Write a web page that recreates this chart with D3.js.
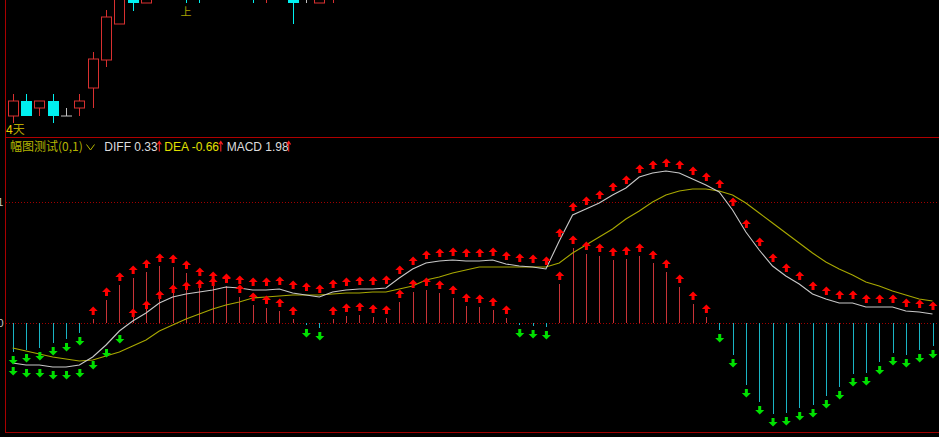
<!DOCTYPE html>
<html><head><meta charset="utf-8">
<script src="https://cdn.jsdelivr.net/npm/d3@7/dist/d3.min.js"></script>
<style>html,body{margin:0;padding:0;background:#000;overflow:hidden}</style>
</head><body><svg id="c" width="939" height="437"></svg>
<script>
// ---------- data ----------
const macd = [-0.29,-0.27,-0.25,-0.20,-0.16,-0.10,0.04,0.23,0.38,0.45,
  0.51,0.57,0.56,0.50,0.43,0.39,0.37,0.26,0.18,0.15,
  0.12,0.04,-0.02,-0.05,0.04,0.07,0.08,0.06,0.05,0.21,
  0.31,0.33,0.30,0.25,0.17,0.16,0.13,0.05,-0.02,-0.03,
  -0.04,0.39,0.75,0.69,0.67,0.63,0.64,0.67,0.60,0.51,
  0.36,0.19,0.06,-0.07,-0.32,-0.62,-0.79,-0.91,-0.90,-0.85,
  -0.82,-0.73,-0.64,-0.51,-0.50,-0.39,-0.30,-0.32,-0.27,-0.23];
const diff = [-0.40,-0.42,-0.42,-0.44,-0.44,-0.42,-0.34,-0.22,-0.08,0.02,
  0.10,0.20,0.26,0.29,0.31,0.33,0.36,0.35,0.33,0.33,
  0.34,0.30,0.28,0.26,0.31,0.33,0.34,0.34,0.35,0.45,
  0.54,0.60,0.62,0.63,0.62,0.62,0.63,0.59,0.57,0.56,
  0.54,0.82,1.08,1.14,1.20,1.28,1.35,1.46,1.50,1.52,
  1.50,1.44,1.38,1.31,1.13,0.91,0.73,0.57,0.47,0.39,
  0.29,0.24,0.20,0.20,0.16,0.16,0.16,0.12,0.11,0.09];
const dea = [-0.25,-0.28,-0.31,-0.34,-0.36,-0.38,-0.37,-0.33,-0.29,-0.23,
  -0.17,-0.08,-0.02,0.04,0.09,0.14,0.18,0.21,0.25,0.26,
  0.27,0.28,0.28,0.28,0.29,0.30,0.30,0.31,0.31,0.34,
  0.37,0.43,0.46,0.50,0.53,0.56,0.56,0.56,0.56,0.56,
  0.56,0.60,0.70,0.78,0.86,0.94,1.04,1.12,1.21,1.28,
  1.32,1.34,1.34,1.32,1.28,1.20,1.10,1.00,0.90,0.80,
  0.70,0.61,0.54,0.48,0.41,0.37,0.32,0.28,0.24,0.22];

const candleOpen  = [10.21,10.36,10.29,10.36,10.21,10.29,10.49,10.77,11.13,11.55,11.34,11.52,11.66,11.58,11.55,11.45,11.55,11.62,11.55,11.45,11.52,11.55,11.42,11.34,11.48];
const candleClose = [10.36,10.21,10.36,10.21,10.21,10.36,10.78,11.20,11.48,11.34,11.52,11.66,11.60,11.45,11.42,11.55,11.62,11.55,11.45,11.52,11.58,11.34,11.42,11.48,11.55];
const candleHigh  = [10.43,10.43,10.36,10.43,10.29,10.43,10.85,11.27,11.55,11.62,11.58,11.72,11.75,11.65,11.60,11.62,11.70,11.68,11.60,11.58,11.64,11.60,11.50,11.55,11.60];
const candleLow   = [10.14,10.21,10.21,10.14,10.21,10.21,10.29,10.70,11.13,11.26,11.34,11.45,11.42,11.34,11.34,11.40,11.48,11.45,11.34,11.34,11.45,11.13,11.34,11.34,11.34];

const yTickValues = [0, 1.21];
const yTickLabels = ["0", "1.21"];
const legendTitle = "幅图测试(0,1)";
const legendItems = [["DIFF", "0.33"], ["DEA", "-0.66"], ["MACD", "1.98"]];
const periodLabel = ["4", "天"];
const markText = "上";
const markIndex = 13;

// ---------- scales ----------
const svg = d3.select("#c");
const W = 939, H = 437;
const x = d3.scaleLinear().domain([0, 69]).range([12.7, 932.5]);
const y = d3.scaleLinear().domain([0, 1.21]).range([323, 202]);
const yp = d3.scaleLinear().domain([10, 11.37]).range([137, 0]);

svg.append("rect").attr("width", W).attr("height", H).attr("fill", "#000");

const FONT = "'Liberation Sans', Arial, 'Noto Sans CJK SC', sans-serif";
const CJK = "'Noto Sans CJK SC', sans-serif";

// ---------- candle panel ----------
svg.append("clipPath").attr("id", "top").append("rect").attr("x", 6).attr("y", 0).attr("width", W).attr("height", 137);
const cg = svg.append("g").attr("clip-path", "url(#top)");
const RED = "#d83030", CYAN = "#00f0f0", GREY = "#c0c0c0";
candleOpen.forEach((o, i) => {
  const c = candleClose[i], h = candleHigh[i], l = candleLow[i];
  const cx = Math.round(x(i)) + 0.5;
  const col = c > o ? RED : (c < o ? CYAN : GREY);
  const top = yp(Math.max(o, c)), bot = yp(Math.min(o, c));
  cg.append("line").attr("x1", cx).attr("x2", cx).attr("y1", yp(h)).attr("y2", top).attr("stroke", col);
  cg.append("line").attr("x1", cx).attr("x2", cx).attr("y1", bot).attr("y2", yp(l)).attr("stroke", col);
  if (c > o) {
    cg.append("rect").attr("x", cx - 5).attr("y", top).attr("width", 10).attr("height", Math.max(0, bot - top))
      .attr("fill", "none").attr("stroke", col);
  } else if (c < o) {
    cg.append("rect").attr("x", cx - 5.5).attr("y", top).attr("width", 11).attr("height", Math.max(0, bot - top))
      .attr("fill", col);
  } else {
    cg.append("line").attr("x1", cx - 5.5).attr("x2", cx + 5.5).attr("y1", top).attr("y2", top).attr("stroke", col);
  }
});
cg.append("text").attr("x", x(markIndex)).attr("y", 15.5).attr("text-anchor", "middle")
  .attr("font-family", CJK).attr("font-size", 11).attr("fill", "#a8a000").text(markText);

// period label
const pl = svg.append("text").attr("x", 6).attr("y", 134).attr("font-size", 12).attr("font-family", CJK);
pl.append("tspan").attr("fill", "#e8d000").attr("font-family", FONT).text(periodLabel[0]);
pl.append("tspan").attr("fill", "#b4a400").text(periodLabel[1]);

// ---------- frame ----------
svg.append("line").attr("x1", 5.5).attr("x2", 5.5).attr("y1", 0).attr("y2", 433).attr("stroke", "#a80000");
svg.append("line").attr("x1", 5).attr("x2", W).attr("y1", 137.5).attr("y2", 137.5).attr("stroke", "#b00000");
svg.append("line").attr("x1", 5).attr("x2", W).attr("y1", 432.5).attr("y2", 432.5).attr("stroke", "#a00000");

// grid dotted lines + tick labels
yTickValues.forEach((v, k) => {
  const yy = Math.round(y(v)) + 0.5;
  svg.append("line").attr("x1", 6).attr("x2", W).attr("y1", yy).attr("y2", yy)
    .attr("stroke", "#a00000").attr("stroke-dasharray", "1,2");
  svg.append("text").attr("x", 3.5).attr("y", yy).attr("dy", "0.35em").attr("text-anchor", "end")
    .attr("font-size", 11).attr("font-family", FONT).attr("fill", "#c8c8c8").text(yTickLabels[k]);
});

// ---------- MACD panel ----------
const mg = svg.append("g");
macd.forEach((v, i) => {
  const cx = Math.round(x(i)) + 0.5;
  mg.append("line").attr("x1", cx).attr("x2", cx).attr("y1", y(0)).attr("y2", y(v))
    .attr("stroke", v >= 0 ? "#c83438" : "#1ab4c4").attr("stroke-width", 1);
});

const line = d3.line().x((d, i) => x(i)).y(d => y(d));
mg.append("path").datum(dea).attr("d", line).attr("fill", "none").attr("stroke", "#a8a800").attr("stroke-width", 1.1);
mg.append("path").datum(diff).attr("d", line).attr("fill", "none").attr("stroke", "#c8c8c8").attr("stroke-width", 1.1);

function arrow(cx, yv, up) {
  const hw = 4.5, sw = 1.5, hh = 4.5, L = 8.5;
  if (up) {
    const b = yv - 4;
    return `M${cx},${b - L}L${cx + hw},${b - L + hh}L${cx + sw},${b - L + hh}L${cx + sw},${b}L${cx - sw},${b}L${cx - sw},${b - L + hh}L${cx - hw},${b - L + hh}Z`;
  } else {
    const t = yv + 4;
    return `M${cx},${t + L}L${cx + hw},${t + L - hh}L${cx + sw},${t + L - hh}L${cx + sw},${t}L${cx - sw},${t}L${cx - sw},${t + L - hh}L${cx - hw},${t + L - hh}Z`;
  }
}
const ag = svg.append("g");
[macd, diff].forEach(series => {
  series.forEach((v, i) => {
    const up = v >= 0;
    ag.append("path").attr("d", arrow(x(i) + 0.5, y(v), up)).attr("fill", up ? "#ff0000" : "#00e000");
  });
});

// ---------- legend ----------
const lg = svg.append("g").attr("font-size", 12).attr("font-family", FONT);
lg.append("text").attr("x", 10).attr("y", 151).attr("font-family", CJK).attr("fill", "#b4b400").text(legendTitle);
lg.append("path").attr("d", "M86.5,144.5L90.5,150L94.5,144.5").attr("fill", "none").attr("stroke", "#b4b400").attr("stroke-width", 1);
const lx = [104.3, 164.3, 226.7];
const lcol = ["#dcdcdc", "#e0e000", "#dcdcdc"];
const ax = [159.3, 220.8, 288.7];
legendItems.forEach((it, k) => {
  lg.append("text").attr("x", lx[k]).attr("y", 151).attr("fill", lcol[k]).text(it[0] + " " + it[1]);
  const a = ax[k];
  lg.append("path").attr("d", `M${a},151.5L${a},142M${a - 2},144.5L${a},141.5L${a + 2},144.5`)
    .attr("fill", "none").attr("stroke", "#ff2020").attr("stroke-width", 1.1);
});
</script></body></html>
